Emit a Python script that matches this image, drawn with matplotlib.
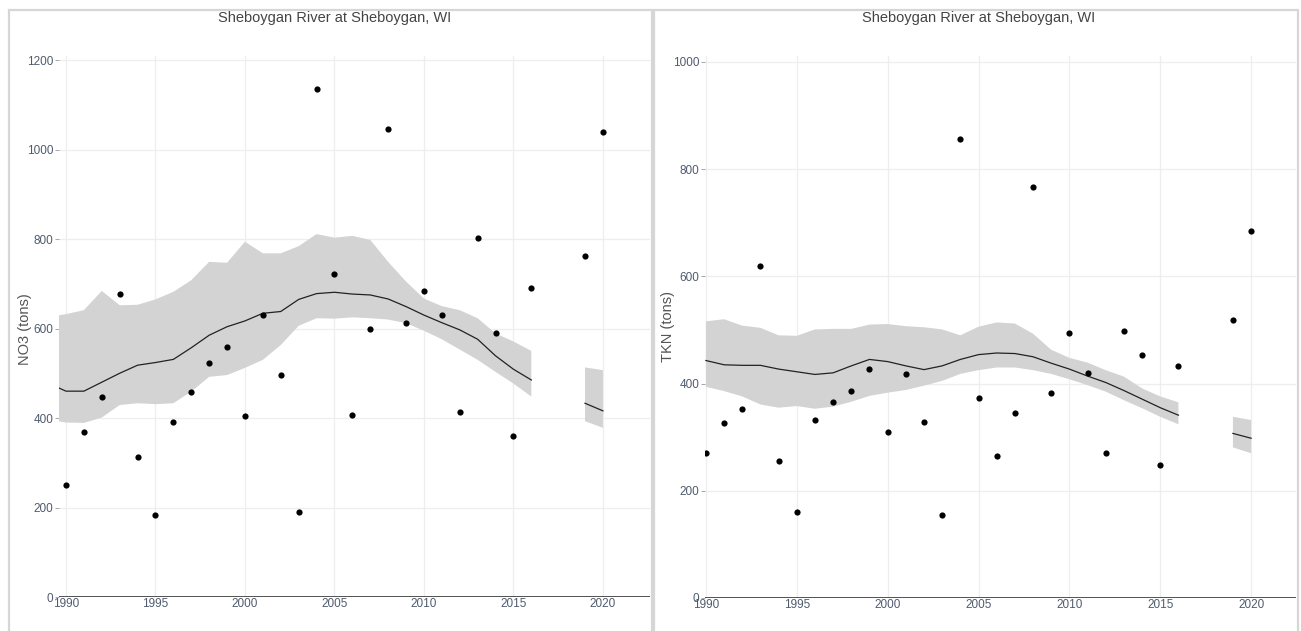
import numpy as np
import matplotlib
matplotlib.use("Agg")
import matplotlib.pyplot as plt
from matplotlib.patches import Rectangle

plt.rcParams['font.family'] = ['Liberation Sans', 'DejaVu Sans']

W, H = 1301, 631

# annual loads (tons)
obs_years = [1990, 1991, 1992, 1993, 1994, 1995, 1996, 1997, 1998, 1999,
             2000, 2001, 2002, 2003, 2004, 2005, 2006, 2007, 2008, 2009,
             2010, 2011, 2012, 2013, 2014, 2015, 2016, 2019, 2020]
no3_obs = [250, 369, 447, 677, 313, 183, 391, 458, 523, 559,
           404, 630, 496, 190, 1135, 722, 407, 599, 1046, 612,
           684, 630, 413, 802, 590, 360, 690, 762, 1039]
tkn_obs = [270, 327, 353, 619, 256, 161, 332, 366, 386, 428,
           309, 418, 328, 154, 856, 373, 265, 346, 767, 383,
           494, 420, 271, 498, 454, 249, 433, 518, 685]

# smoothed trend with confidence band (2017-2018 missing)
trend_years = list(range(1989, 2021))
no3_fit = [478, 460, 460, 480, 500, 518, 524, 531, 557, 585, 604, 617,
           634, 638, 665, 678, 681, 677, 675, 666, 649, 630, 613, 597,
           576, 539, 509, 485, np.nan, np.nan, 433, 416]
no3_hi = [626, 632, 641, 684, 652, 653, 665, 682, 708, 749, 747, 794,
          768, 768, 784, 811, 803, 807, 798, 749, 705, 667, 650, 641,
          623, 589, 571, 550, np.nan, np.nan, 513, 507]
no3_lo = [396, 390, 389, 401, 429, 433, 431, 433, 459, 492, 496, 512,
          530, 563, 606, 623, 622, 625, 623, 620, 612, 595, 576, 553,
          530, 503, 477, 448, np.nan, np.nan, 393, 378]

tkn_fit = [np.nan, 443, 435, 434, 434, 427, 422, 417, 420, 433, 445, 441,
           433, 426, 433, 445, 454, 457, 456, 450, 438, 427, 414, 402,
           387, 371, 355, 341, np.nan, np.nan, 307, 298]
tkn_hi = [np.nan, 516, 520, 508, 504, 490, 489, 501, 502, 502, 510, 511,
          507, 505, 501, 490, 506, 514, 512, 493, 463, 448, 439, 425,
          413, 391, 376, 365, np.nan, np.nan, 338, 332]
tkn_lo = [np.nan, 394, 386, 376, 361, 355, 358, 353, 357, 366, 377, 383,
          388, 396, 405, 418, 425, 430, 430, 425, 418, 408, 397, 385,
          369, 354, 338, 324, np.nan, np.nan, 281, 270]

title = "Sheboygan River at Sheboygan, WI"
x_ticks = [1990, 1995, 2000, 2005, 2010, 2015, 2020]

fig = plt.figure(figsize=(W / 100, H / 100), dpi=100)

# panel frames
for x0, x1 in [(9, 652), (654, 1298)]:
    fig.add_artist(Rectangle((x0 / W, -0.05), (x1 - x0) / W, 1.05 - 10 / H,
                             transform=fig.transFigure, fill=False,
                             ec='#d6d6d6', lw=1.6))


def panel(rect, xlim, ylim, yticks, obs, fit, hi, lo):
    ax = fig.add_axes(rect)
    yrs = np.array(trend_years, dtype=float)
    ax.fill_between(yrs, np.array(lo, float), np.array(hi, float),
                    color='#d3d3d3', lw=0, zorder=2)
    ax.plot(yrs, np.array(fit, float), color='#222222', lw=0.9, zorder=3)
    ax.scatter(obs_years, obs, s=20, color='black', zorder=4, lw=0)
    ax.axhline(0, color='#444444', lw=1.3, zorder=3)
    ax.set_xlim(*xlim)
    ax.set_ylim(*ylim)
    ax.set_xticks(x_ticks)
    ax.set_yticks(yticks)
    for x in x_ticks:
        ax.axvline(x, color='#eeeeee', lw=0.9, zorder=1)
    for y in yticks[1:]:
        ax.axhline(y, color='#eeeeee', lw=0.9, zorder=1)
    for s in ax.spines.values():
        s.set_visible(False)
    ax.tick_params(axis='y', length=3, width=0.6, color='#999999', pad=1,
                   labelsize=8.5, labelcolor='#4f5b6e')
    ax.tick_params(axis='x', length=0, pad=1, labelsize=8.5,
                   labelcolor='#4f5b6e')
    return ax


ax1 = panel([59 / W, (631 - 597) / H, 591 / W, 541 / H],
            (1989.61, 2022.63), (0, 1209), list(range(0, 1201, 200)),
            no3_obs, no3_fit, no3_hi, no3_lo)
ax2 = panel([705 / W, (631 - 598) / H, 591 / W, 542 / H],
            (1989.95, 2022.47), (0, 1011), list(range(0, 1001, 200)),
            tkn_obs, tkn_fit, tkn_hi, tkn_lo)

fig.text(335 / W, 1 - 18 / H, title, ha='center', va='center',
         fontsize=10.5, color='#444444')
fig.text(979 / W, 1 - 18 / H, title, ha='center', va='center',
         fontsize=10.5, color='#444444')
fig.text(25 / W, 1 - 329 / H, "NO3 (tons)", rotation=90, ha='center',
         va='center', fontsize=10.5, color='#555555')
fig.text(668 / W, 1 - 326 / H, "TKN (tons)", rotation=90, ha='center',
         va='center', fontsize=10.5, color='#555555')

fig.savefig("out.png", dpi=100)
